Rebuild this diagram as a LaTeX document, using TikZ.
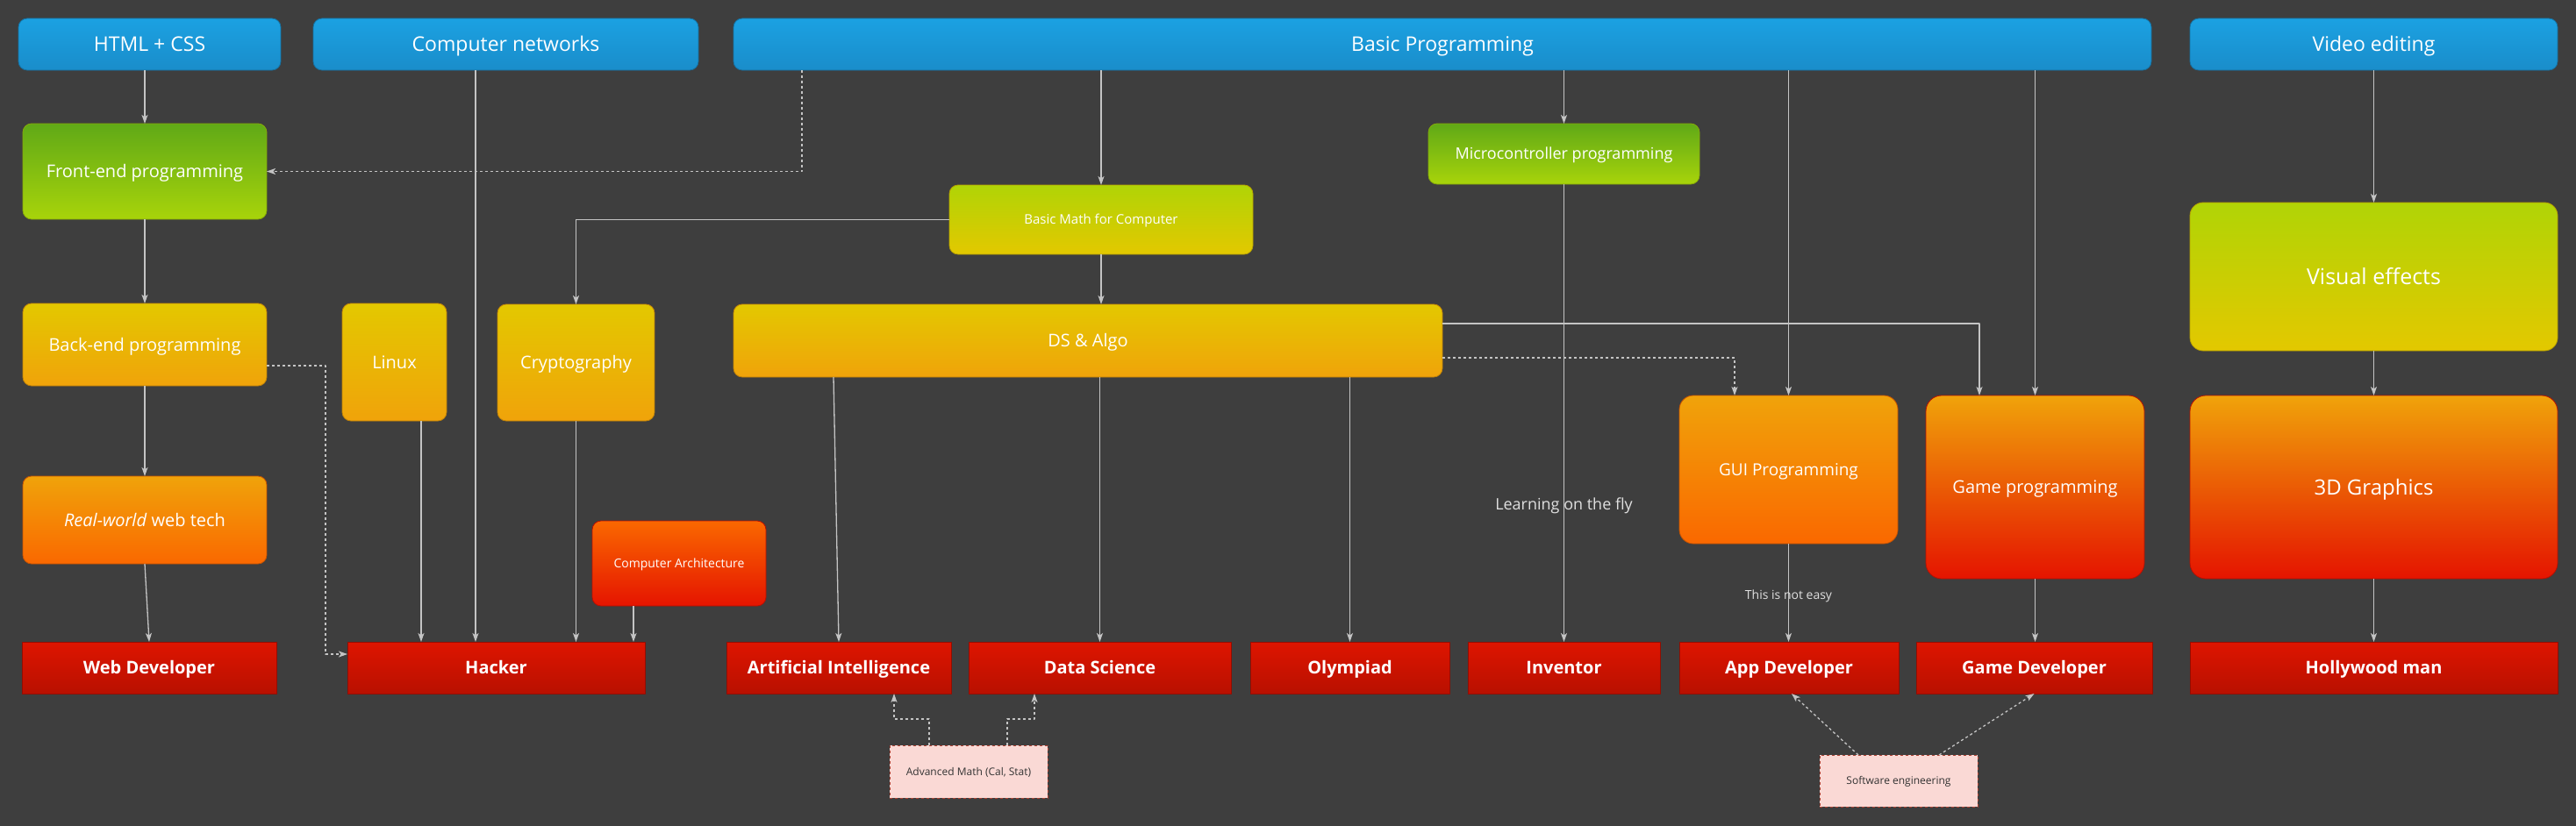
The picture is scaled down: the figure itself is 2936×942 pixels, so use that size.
\documentclass[tikz,border=0pt]{standalone}
\usepackage{fontspec}
\setmainfont{Open Sans}
\usetikzlibrary{arrows.meta}
\definecolor{bgc}{HTML}{3E3E3E}
\definecolor{edgec}{HTML}{C4C4C4}
\definecolor{blueA}{HTML}{1BA1E2}
\definecolor{blueB}{HTML}{1A8DCA}
\definecolor{greenA}{HTML}{60A917}
\definecolor{greenB}{HTML}{A8D40A}
\definecolor{limeA}{HTML}{B0D406}
\definecolor{yelA}{HTML}{E3C800}
\definecolor{ambA}{HTML}{F0A30A}
\definecolor{orgA}{HTML}{FA6800}
\definecolor{redA}{HTML}{E51400}
\definecolor{jobA}{HTML}{DE1500}
\definecolor{jobB}{HTML}{B81000}
\definecolor{noteF}{HTML}{FAD9D5}
\definecolor{noteD}{HTML}{AE4132}
\begin{document}
\begin{tikzpicture}[x=1pt,y=-1pt,line join=round,>={Stealth[length=10pt,width=7pt,inset=2.5pt]},
  fs/.code={\pgfmathsetlengthmacro\capht{0.714*#1pt}\pgfkeysalso{/tikz/font=\fontsize{#1}{#1}\selectfont,/tikz/text height=\capht,/tikz/text depth=0pt}},
  box/.style={rectangle,rounded corners=10pt,inner sep=0pt,outer sep=0pt,text=white,align=center,line width=0.8pt},
  grad/.style 2 args={top color=#1,bottom color=#2,draw=#2!80!black},
  hdr/.style={box,grad={blueA}{blueB},fs=23},
  job/.style={box,rounded corners=0pt,grad={jobA}{jobB},fs=20,font=\fontsize{20}{20}\selectfont\bfseries},
  note/.style={rectangle,inner sep=0pt,outer sep=0pt,fill=noteF,draw=noteD,dashed,line width=0.8pt,text=black!80,fs=12},
  lnk/.style={draw=edgec,line width=1.3pt},
  dlnk/.style={lnk,dashed},
  lbl/.style={text=white!88!black,inner sep=0pt}]
\fill[bgc] (0,0) rectangle (2936,942);

\node[hdr,minimum width=299,minimum height=59] (html) at (170.5,50.5) {HTML + CSS};
\node[hdr,minimum width=439,minimum height=59] (net) at (576.5,50.5) {Computer networks};
\node[hdr,minimum width=1616,minimum height=59] (basic) at (1644,50.5) {Basic Programming};
\node[hdr,minimum width=419,minimum height=59] (video) at (2705.5,50.5) {Video editing};

\node[box,grad={greenA}{greenB},fs=20,minimum width=278,minimum height=109] (front) at (165,195.5) {Front-end programming};
\node[box,grad={greenA}{greenB},fs=18,minimum width=309,minimum height=69] (micro) at (1782.5,175.5) {Microcontroller programming};
\node[box,grad={limeA}{yelA},fs=15,minimum width=346,minimum height=79] (bmath) at (1255,250.5) {Basic Math for Computer};
\node[box,grad={limeA}{yelA},fs=25,rounded corners=15pt,minimum width=419,minimum height=169] (vfx) at (2705.5,315.5) {Visual effects};

\node[box,grad={yelA}{ambA},fs=20,minimum width=278,minimum height=94] (back) at (165,393) {Back-end programming};
\node[box,grad={yelA}{ambA},fs=20,minimum width=119,minimum height=134] (linux) at (449.5,413) {Linux};
\node[box,grad={yelA}{ambA},fs=20,minimum width=179,minimum height=133] (crypto) at (656.5,413.5) {Cryptography};
\node[box,grad={yelA}{ambA},fs=20,minimum width=808,minimum height=83] (dsa) at (1240,388.5) {DS \& Algo};

\node[box,grad={ambA}{orgA},fs=20,minimum width=278,minimum height=100] (real) at (165,593) {\textit{Real-world} web tech};
\node[box,grad={orgA}{redA},fs=14,minimum width=198,minimum height=97] (arch) at (774,642.5) {Computer Architecture};
\node[box,grad={ambA}{orgA},fs=19,rounded corners=16pt,minimum width=249,minimum height=169] (gui) at (2038.5,535.5) {GUI Programming};
\node[box,grad={ambA}{redA},fs=20,rounded corners=18pt,minimum width=249,minimum height=209] (game) at (2319.5,555.5) {Game programming};
\node[box,grad={ambA}{redA},fs=24,rounded corners=18pt,minimum width=419,minimum height=209] (g3d) at (2705.5,555.5) {3D Graphics};

\node[job,minimum width=290,minimum height=59] (webdev) at (170,761.5) {Web Developer};
\node[job,minimum width=339,minimum height=59] (hacker) at (565.5,761.5) {Hacker};
\node[job,minimum width=256,minimum height=59] (ai) at (956,761.5) {Artificial Intelligence};
\node[job,minimum width=299,minimum height=59] (ds) at (1253.5,761.5) {Data Science};
\node[job,minimum width=227,minimum height=59] (oly) at (1538.5,761.5) {Olympiad};
\node[job,minimum width=219,minimum height=59] (inv) at (1782.5,761.5) {Inventor};
\node[job,minimum width=250,minimum height=59] (app) at (2039,761.5) {App Developer};
\node[job,minimum width=269,minimum height=59] (gamedev) at (2318.5,761.5) {Game Developer};
\node[job,minimum width=419,minimum height=59] (holly) at (2705.5,761.5) {Hollywood man};

\node[note,minimum width=180,minimum height=60] (advmath) at (1104,880) {Advanced Math (Cal, Stat)};
\node[note,minimum width=180,minimum height=59] (soft) at (2164,890.5) {Software engineering};

\coordinate (bk) at (371,746);

\draw[lnk,->] (front.north |- html.south) -- (front.north);
\draw[lnk,->] (front.south) -- (back.north);
\draw[lnk,->] (back.south) -- (real.north);
\draw[lnk,->] (real.south) -- (webdev.north);
\draw[dlnk,->] ([yshift=-24pt]back.east) -| (bk) -- (bk -| hacker.west);
\draw[lnk,->] ([xshift=30.5pt]linux.south) -- ([xshift=30.5pt]linux.south |- hacker.north);
\draw[lnk,->] ([xshift=-34.5pt]net.south) -- ([xshift=-34.5pt]net.south |- hacker.north);
\draw[lnk,->] (crypto.south) -- (crypto.south |- hacker.north);
\draw[lnk,->] ([xshift=-52pt]arch.south) -- ([xshift=-52pt]arch.south |- hacker.north);

\draw[dlnk,->] ([xshift=-730pt]basic.south) |- (front.east);
\draw[lnk,->] (bmath.north |- basic.south) -- (bmath.north);
\draw[lnk,->] (bmath.south) -- (bmath.south |- dsa.north);
\draw[lnk,->] (bmath.west) -| (crypto.north);
\draw[lnk,->] ([xshift=-290pt]dsa.south) -- (ai.north);
\draw[lnk,->] (ds.north |- dsa.south) -- (ds.north);
\draw[lnk,->] (oly.north |- dsa.south) -- (oly.north);
\draw[lnk,->] ([yshift=19.5pt]dsa.east) -| ([xshift=-63.5pt]game.north);
\draw[dlnk,->] ([yshift=-19.5pt]dsa.east) -| ([xshift=-61.5pt]gui.north);

\draw[lnk,->] (micro.north |- basic.south) -- (micro.north);
\draw[lnk,->] (micro.south) -- (inv.north) node[lbl,pos=0.7,fs=18] {Learning on the fly};
\draw[lnk,->] (gui.north |- basic.south) -- (gui.north);
\draw[lnk,->] (gui.south) -- (gui.south |- app.north) node[lbl,pos=0.52,fs=14] {This is not easy};
\draw[lnk,->] (game.north |- basic.south) -- (game.north);
\draw[lnk,->] (game.south) -- (game.south |- gamedev.north);

\draw[lnk,->] (video.south) -- (vfx.north);
\draw[lnk,->] (vfx.south) -- (g3d.north);
\draw[lnk,->] (g3d.south) -- (holly.north);

\draw[dlnk,->] ([xshift=-45pt]advmath.north) -- ++(0,-30) -| ([xshift=63pt]ai.south);
\draw[dlnk,->] ([xshift=44pt]advmath.north) -- ++(0,-30) -| ([xshift=-74.5pt]ds.south);
\draw[dlnk,->] ([xshift=-46pt]soft.north) -- ([xshift=3pt]app.south);
\draw[dlnk,->] ([xshift=46pt]soft.north) -- (gamedev.south);
\end{tikzpicture}
\end{document}
